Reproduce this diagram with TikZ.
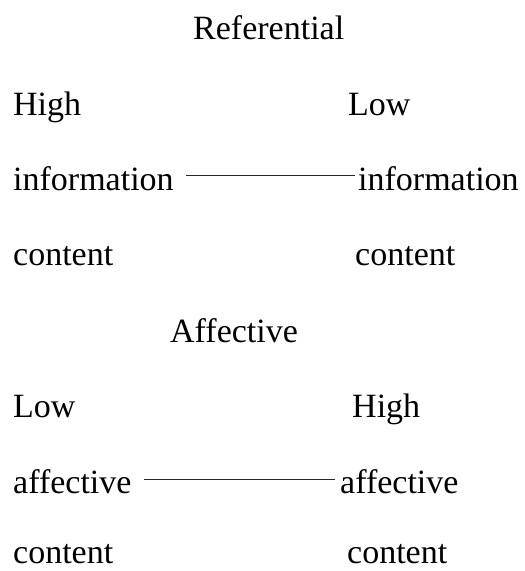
\documentclass[tikz,border=0pt]{standalone}
\usepackage{fontspec}
\setmainfont{Liberation Serif}
\begin{document}
\begin{tikzpicture}[x=1pt,y=-1pt,
  lbl/.style={anchor=base west,inner sep=0pt,font=\fontsize{34}{40}\selectfont},
  rule/.style={line width=1pt,black!85}]
\useasboundingbox (0,0) rectangle (525,571);
\node[lbl] (ref) at (193,39) {Referential};
\node[lbl] (hiL) at (13,115) {High};
\node[lbl] (loR) at (348,115) {Low};
\node[lbl] (infL) at (13,190) {information};
\node[lbl] (infR) at (358,190) {information};
\node[lbl] (conL) at (13,265) {content};
\node[lbl] (conR) at (355,265) {content};
\node[lbl] (aff) at (170,342) {Affective};
\node[lbl] (loL) at (13,417) {Low};
\node[lbl] (hiR) at (352,417) {High};
\node[lbl] (affL) at (13,493) {affective};
\node[lbl] (affR) at (340,493) {affective};
\node[lbl] (con2L) at (13,563) {content};
\node[lbl] (con2R) at (347,563) {content};
\draw[rule] ([xshift=12pt,yshift=15pt]infL.base east) -- ([xshift=-3pt,yshift=15pt]infR.base west);
\draw[rule] ([xshift=12pt,yshift=14pt]affL.base east) -- ([xshift=-5pt,yshift=14pt]affR.base west);
\end{tikzpicture}
\end{document}
